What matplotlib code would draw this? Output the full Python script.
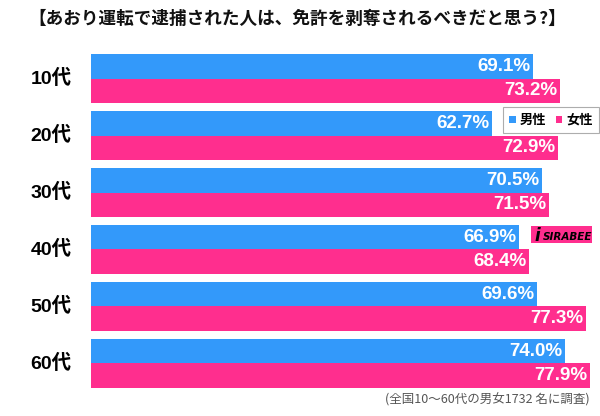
import matplotlib
matplotlib.use("Agg")
import matplotlib.pyplot as plt
import numpy as np
from matplotlib.patches import Rectangle, Patch

plt.rcParams['font.family'] = ['Noto Sans CJK JP', 'DejaVu Sans']

categories = ["10代", "20代", "30代", "40代", "50代", "60代"]
male = [69.1, 62.7, 70.5, 66.9, 69.6, 74.0]
female = [73.2, 72.9, 71.5, 68.4, 77.3, 77.9]
series_names = ["男性", "女性"]
title = "【あおり運転で逮捕された人は、免許を剥奪されるべきだと思う?】"
note = "(全国10〜60代の男女1732 名に調査)"

BLUE = "#3399fa"
PINK = "#ff2e8e"

W, H = 600, 416
fig = plt.figure(figsize=(W / 100, H / 100), dpi=100)

# axes in pixel coordinates
x0, x1 = 91, 591
y_top, y_bot = 54, 388
ax = fig.add_axes([x0 / W, 1 - y_bot / H, (x1 - x0) / W, (y_bot - y_top) / H])

n = len(categories)
pitch = 1.0
bh = 0.43
pos = np.arange(n) * pitch
ax.barh(pos, male, height=bh, align='edge', color=BLUE, linewidth=0)
ax.barh(pos + bh, female, height=bh, align='edge', color=PINK, linewidth=0)
ax.set_xlim(0, 78.1)
ax.set_ylim(pos[-1] + 2 * bh, 0)
ax.axis('off')

valfont = dict(family=['Liberation Sans', 'DejaVu Sans'], fontweight='bold', fontsize=13.5, color='white')
for i in range(n):
    ax.text(male[i] - 0.4, pos[i] + bh / 2, f"{male[i]:.1f}%", ha='right', va='center', **valfont)
    ax.text(female[i] - 0.4, pos[i] + 1.5 * bh, f"{female[i]:.1f}%", ha='right', va='center', **valfont)
    ax.text(-3.0, pos[i] + bh, categories[i], ha='right', va='center', fontsize=14,
            fontweight='bold', color='black', clip_on=False,
            family=['Liberation Sans', 'Noto Sans CJK JP'])

fig.text(0.495, 1 - 19 / H, title, ha='center', va='center', fontsize=12.7, fontweight='bold', color='#111111')

# legend
handles = [Patch(facecolor=BLUE, edgecolor='none'), Patch(facecolor=PINK, edgecolor='none')]
leg = fig.legend(handles, series_names, loc='center', bbox_to_anchor=(551 / W, 1 - 120 / H),
                 ncol=2, frameon=True, handlelength=0.5, handleheight=0.5,
                 handletextpad=0.3, columnspacing=0.7, borderpad=0.45, fancybox=False,
                 prop={'weight': 'bold', 'size': 9.5})
leg.get_frame().set_edgecolor('#999999')
leg.get_frame().set_linewidth(0.8)

# SIRABEE logo
lx, ly, lw, lh = 531, 226, 61, 17
fig.patches.append(Rectangle((lx / W, 1 - (ly + lh) / H), lw / W, lh / H, transform=fig.transFigure,
                             facecolor=PINK, edgecolor='none'))
fig.text((lx + 3) / W, 1 - (ly + lh / 2 + 1) / H, "i", fontsize=12, fontweight='bold', style='italic',
         color='black', va='center', ha='left', family='DejaVu Sans')
fig.text((lx + 12) / W, 1 - (ly + lh / 2 + 2) / H, "SIRABEE", fontsize=7.5, fontweight='bold', style='italic',
         color='black', va='center', ha='left', family='DejaVu Sans')

fig.text(590 / W, 1 - 400 / H, note, ha='right', va='center', fontsize=9, color='#555555')

fig.savefig("out.png", dpi=100, facecolor='white')
